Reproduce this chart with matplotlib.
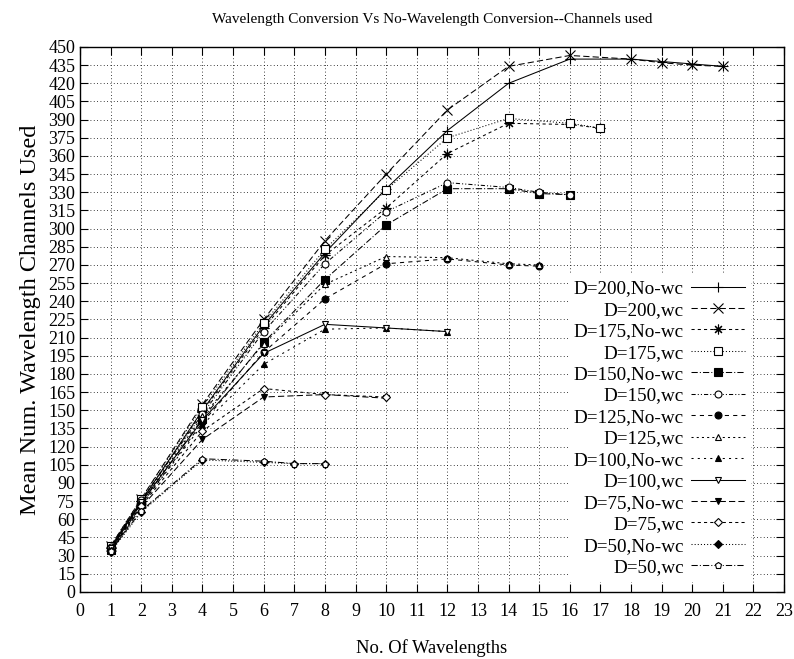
import matplotlib.pyplot as plt
import numpy as np

plt.rcParams['font.family'] = ['Liberation Serif', 'DejaVu Serif']

# data
x200 = [1, 2, 4, 6, 8, 10, 12, 14, 16, 18, 19, 20, 21]
d200_nowc = [37, 75, 150, 220, 280, 333, 381, 420, 440, 440, 438, 436, 434]
d200_wc = [38, 77, 155, 225, 290, 345, 398, 434, 443, 440, 437, 435, 434]

x175 = [1, 2, 4, 6, 8, 10, 12, 14, 16, 17]
d175_nowc = [36, 75, 149, 218, 278, 317, 362, 387, 386, 383]
d175_wc = [38, 77, 153, 222, 283, 332, 375, 391, 387, 383]

x150 = [1, 2, 4, 6, 8, 10, 12, 14, 15, 16]
d150_nowc = [35, 73, 143, 206, 258, 303, 333, 333, 329, 328]
d150_wc = [37, 76, 147, 215, 271, 314, 338, 334, 330, 328]

x125 = [1, 2, 4, 6, 8, 10, 12, 14, 15]
d125_nowc = [34, 72, 140, 198, 242, 271, 275, 270, 269]
d125_wc = [35, 74, 145, 205, 254, 277, 276, 271, 270]

x100 = [1, 2, 4, 6, 8, 10, 12]
d100_nowc = [35, 72, 138, 188, 217, 218, 215]
d100_wc = [36, 74, 142, 197, 221, 218, 215]

x75 = [1, 2, 4, 6, 8, 10]
d75_nowc = [33, 70, 126, 161, 163, 160]
d75_wc = [34, 71, 133, 168, 163, 161]

x50 = [1, 2, 4, 6, 7, 8]
d50_nowc = [33, 66, 109, 107, 106, 106]
d50_wc = [34, 67, 110, 108, 106, 106]

labels = ['D=200,No-wc', 'D=200,wc', 'D=175,No-wc', 'D=175,wc',
          'D=150,No-wc', 'D=150,wc', 'D=125,No-wc', 'D=125,wc',
          'D=100,No-wc', 'D=100,wc', 'D=75,No-wc', 'D=75,wc',
          'D=50,No-wc', 'D=50,wc']
xs = [x200, x200, x175, x175, x150, x150, x125, x125, x100, x100, x75, x75, x50, x50]
ys = [d200_nowc, d200_wc, d175_nowc, d175_wc, d150_nowc, d150_wc,
      d125_nowc, d125_wc, d100_nowc, d100_wc, d75_nowc, d75_wc, d50_nowc, d50_wc]

# gnuplot-ish monochrome styles: (linestyle, marker, filled, size)
styles = [
    ('-', '+', True, 7),
    ((0, (6, 3)), 'x', True, 6.5),
    ((0, (3, 3)), (8, 2, 0), True, 7),
    ((0, (1, 2)), 's', False, 5.5),
    ((0, (6, 2, 1, 2)), 's', True, 5.5),
    ((0, (4, 2, 1, 2, 1, 2)), 'o', False, 5),
    ((0, (4, 4)), 'o', True, 5),
    ((0, (2, 3)), '^', False, 5),
    ((0, (2, 4)), '^', True, 5),
    ('-', 'v', False, 5),
    ((0, (6, 3)), 'v', True, 5),
    ((0, (3, 3)), 'D', False, 4),
    ((0, (1, 2)), 'D', True, 4),
    ((0, (6, 2, 1, 2)), 'p', False, 5),
]

fig = plt.figure(figsize=(7.94, 6.59), dpi=100)
ax = fig.add_axes([0.1008, 0.1017, 0.8867, 0.827])

for x, y, lab, (ls, mk, filled, ms) in zip(xs, ys, labels, styles):
    ax.plot(x, y, color='black', linestyle=ls, linewidth=0.75,
            marker=mk, markersize=ms, markeredgewidth=0.8,
            markerfacecolor='black' if filled else 'white',
            markeredgecolor='black', label=lab)

ax.set_xlim(0, 23)
ax.set_ylim(0, 450)
ax.set_xticks(np.arange(0, 24, 1))
ax.set_yticks(np.arange(0, 451, 15))
ax.tick_params(direction='in', length=6, top=True, right=True,
               labelsize=13, width=0.8)
ax.tick_params(axis='x', pad=8)
ax.grid(True, color='black', linestyle=(0, (1, 3)), linewidth=0.6)
for s in ax.spines.values():
    s.set_linewidth(1.0)

ax.set_xlabel('No. Of Wavelengths', fontsize=13.3, labelpad=14)
ax.set_ylabel('Mean Num. Wavelength Channels Used', fontsize=17.5, labelpad=5)
ax.set_title('Wavelength Conversion Vs No-Wavelength Conversion--Channels used',
             fontsize=11, pad=17)

leg = ax.legend(loc='upper right', bbox_to_anchor=(0.965, 0.599),
                markerfirst=False, fontsize=13.8, handlelength=2.8,
                handletextpad=0.4, labelspacing=0.21, borderpad=0.25,
                frameon=True, fancybox=False, framealpha=1,
                edgecolor='white', facecolor='white')

plt.savefig('out.png', dpi=100)
